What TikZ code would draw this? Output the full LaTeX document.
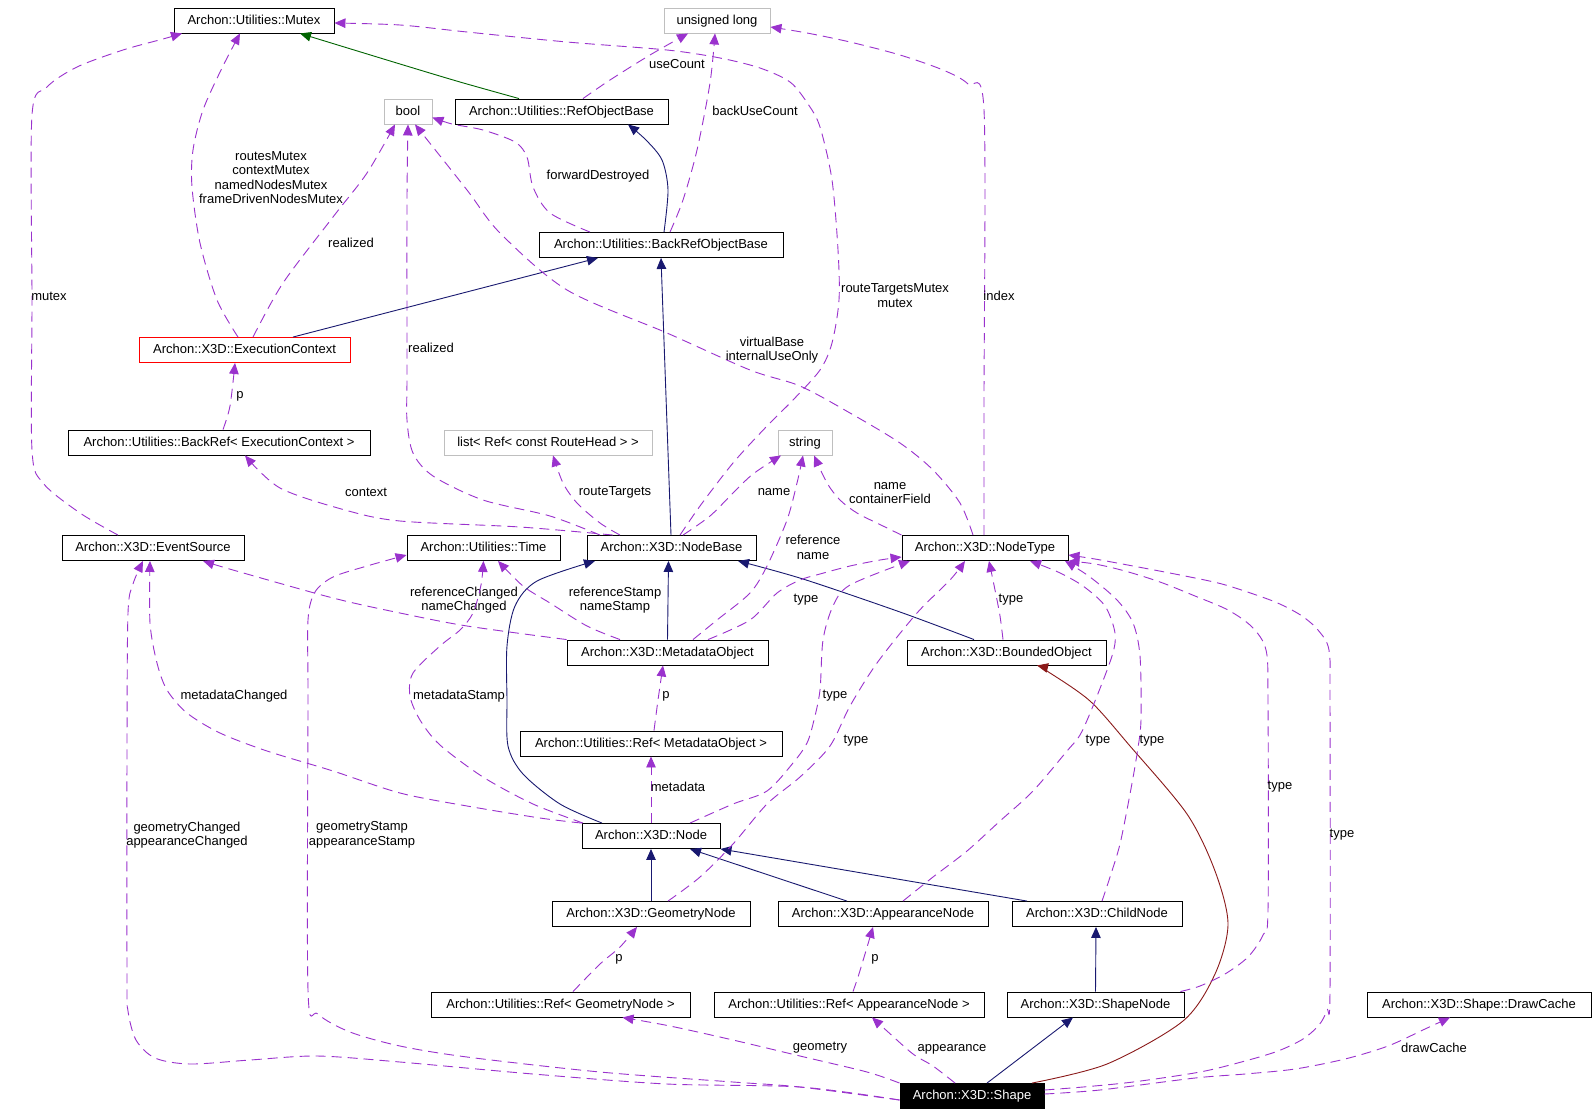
\documentclass[tikz,border=0pt]{standalone}
\usepackage{fontspec}
\setmainfont{Liberation Sans}
\usetikzlibrary{arrows.meta}
\definecolor{usecol}{HTML}{9A32CD}
\definecolor{inhcol}{HTML}{191970}
\definecolor{protcol}{HTML}{006400}
\definecolor{privcol}{HTML}{8B1A1A}
\definecolor{undoccol}{HTML}{BFBFBF}
\tikzset{
  cls/.style={draw=black, line width=0.9pt, rectangle, minimum height=25pt, inner sep=0pt,
    text height=10pt, text depth=2.4pt, fill=white, font=\fontsize{13}{14.5}\selectfont},
  undoc/.style={cls, draw=undoccol},
  incomplete/.style={cls, draw=red},
  mainclass/.style={cls, fill=black, text=white},
  tipA/.style={-{Triangle[length=11pt,width=9.5pt]}},
  inh/.style={draw=inhcol, line width=0.9pt, tipA},
  prot/.style={draw=protcol, line width=0.9pt, tipA},
  priv/.style={draw=privcol, line width=0.9pt, tipA},
  usage/.style={draw=usecol, line width=0.9pt, dash pattern=on 10pt off 6pt, tipA},
  lbl/.style={inner sep=0pt, align=center, font=\fontsize{13}{14.5}\selectfont, text=black},
}
\begin{document}
\begin{tikzpicture}[x=1pt,y=-1pt]
\useasboundingbox[fill=white] (0,0) rectangle (1595,1117);

% ---------- nodes ----------
\node[cls, minimum width=160pt] (mutex) at (254,20.5) {Archon::Utilities::Mutex};
\node[undoc, minimum width=106pt] (ulong) at (717,20.5) {unsigned long};
\node[undoc, minimum width=48pt] (bool) at (408,111.5) {bool};
\node[cls, minimum width=213pt] (rob) at (561.5,111.5) {Archon::Utilities::RefObjectBase};
\node[cls, minimum width=244pt] (brob) at (661,245) {Archon::Utilities::BackRefObjectBase};
\node[incomplete, minimum width=211pt] (ec) at (244.5,350) {Archon::X3D::ExecutionContext};
\node[cls, minimum width=302pt] (brec) at (219,442.5) {Archon::Utilities::BackRef< ExecutionContext >};
\node[undoc, minimum width=208pt] (list) at (548,442.5) {list< Ref< const RouteHead > >};
\node[undoc, minimum width=54pt] (string) at (805,442.5) {string};
\node[cls, minimum width=182pt] (es) at (153,548) {Archon::X3D::EventSource};
\node[cls, minimum width=153pt] (time) at (483.5,548) {Archon::Utilities::Time};
\node[cls, minimum width=169pt] (nb) at (671.5,548) {Archon::X3D::NodeBase};
\node[cls, minimum width=166pt] (nt) at (985,548) {Archon::X3D::NodeType};
\node[cls, minimum width=201pt] (mo) at (667.5,652.5) {Archon::X3D::MetadataObject};
\node[cls, minimum width=199pt] (bo) at (1006.5,652.5) {Archon::X3D::BoundedObject};
\node[cls, minimum width=262pt] (rmo) at (651,743.5) {Archon::Utilities::Ref< MetadataObject >};
\node[cls, minimum width=138pt] (node) at (651,836) {Archon::X3D::Node};
\node[cls, minimum width=198pt] (gn) at (651,914) {Archon::X3D::GeometryNode};
\node[cls, minimum width=210pt] (an) at (883,914) {Archon::X3D::AppearanceNode};
\node[cls, minimum width=170pt] (cn) at (1097,914) {Archon::X3D::ChildNode};
\node[cls, minimum width=259pt] (rgn) at (560.5,1004.5) {Archon::Utilities::Ref< GeometryNode >};
\node[cls, minimum width=270pt] (ran) at (849,1004.5) {Archon::Utilities::Ref< AppearanceNode >};
\node[cls, minimum width=177pt] (sn) at (1095.5,1004.5) {Archon::X3D::ShapeNode};
\node[cls, minimum width=224pt] (dc) at (1479,1004.5) {Archon::X3D::Shape::DrawCache};
\node[mainclass, minimum width=144pt] (shape) at (972,1096) {Archon::X3D::Shape};

% ---------- inheritance ----------
\draw[prot] plot[smooth] coordinates {([xshift=-42.5pt]rob.north) (460,82) (400,64) ([xshift=46pt]mutex.south)};
\draw[inh] plot[smooth] coordinates {([xshift=3pt]brob.north) (668,190) (662,160) (646,140) ([xshift=66.5pt]rob.south)};
\draw[inh] ([xshift=48.5pt]ec.north) -- ([xshift=-63pt]brob.south);
\draw[inh] ([xshift=-0.5pt]nb.north) -- (brob.south);
\draw[inh] (mo.north) -- ([xshift=-3pt]nb.south);
\draw[inh] plot[smooth] coordinates {([xshift=-32.5pt]bo.north) (900,612) (803,579) ([xshift=66.5pt]nb.south)};
\draw[inh] plot[smooth] coordinates {([xshift=-49pt]node.north) (560,804) (523,774) (508,746) (507,700) (507,646) (515,606) (537,581) ([xshift=-76.5pt]nb.south)};
\draw[inh] (gn.north) -- (node.south);
\draw[inh] ([xshift=-36pt]an.north) -- ([xshift=39pt]node.south);
\draw[inh] ([xshift=-70pt]cn.north) -- (node.south east);
\draw[inh] (sn.north) -- ([xshift=-1pt]cn.south);
\draw[inh] ([xshift=15pt]shape.north) -- ([xshift=-22.5pt]sn.south);
\draw[priv] plot[smooth] coordinates {([xshift=60pt]shape.north) (1107,1064) (1183,1021) (1215,974) (1228,924) (1215,871) (1187,814) (1130,746) (1090,701) (1047,671) ([xshift=30.5pt]bo.south)};

% ---------- usage ----------
\draw[usage] plot[smooth] coordinates {([xshift=-35pt]es.north) (80,513) (43,483) (32,450) (32,300) (32,115) (47,87) (77,67) (123,50) (163,39) ([xshift=-72pt]mutex.south)};
\node[lbl] (l-mutex) at (49,296) {mutex};

\draw[usage] plot[smooth] coordinates {([xshift=-6.5pt]ec.north) (217,300) (200,243) (192,187) (193,150) (203,110) (222,68) ([xshift=-14pt]mutex.south)};
\node[lbl] (l-mutexes) at (271,177.5) {routesMutex\\contextMutex\\namedNodesMutex\\frameDrivenNodesMutex};

\draw[usage] plot[smooth] coordinates {([xshift=8.5pt]ec.north) (283,283) (333,217) (367,173) ([xshift=-13pt]bool.south)};
\node[lbl] (l-realized1) at (351,243) {realized};

\draw[usage] plot[smooth] coordinates {([xshift=21.5pt]rob.north) (610,80) (650,55) ([xshift=-29pt]ulong.south)};
\node[lbl] (l-usecount) at (677,64) {useCount};

\draw[usage] plot[smooth] coordinates {([xshift=9pt]brob.north) (683,200) (697,150) (710,83) ([xshift=-2pt]ulong.south)};
\node[lbl] (l-backuse) at (755,111) {backUseCount};

\draw[usage] plot[smooth] coordinates {([xshift=-71pt]brob.north) (550,213) (533,187) (527,157) (515,142) (483,130) (452,124) ([yshift=-6pt]bool.east)};
\node[lbl] (l-fwd) at (598,176) {forwardDestroyed};

\draw[usage] plot[smooth] coordinates {([xshift=-12pt]nt.north) (960,503) (933,470) (900,443) (850,413) (800,386) (750,370) (667,333) (567,290) (500,233) (467,190) ([xshift=7pt]bool.south)};
\node[lbl] (l-virt) at (772,350) {virtualBase\\internalUseOnly};

\draw[usage] plot[smooth] coordinates {([xshift=-71.5pt]nb.north) (550,516) (483,500) (433,476) (413,453) (407,420) (407,373) (407,200) (bool.south)};
\node[lbl] (l-realized2) at (431,348) {realized};

\draw[usage] plot[smooth] coordinates {([xshift=8.5pt]nb.north) (700,506) (733,463) (767,426) (793,400) (820,370) (832,343) (839,300) (838,250) (832,180) (820,127) (808,104) (790,82) (760,68) (720,58) (667,50) (567,42) (467,32) (400,25) ([yshift=-2.5pt]mutex.east)};
\node[lbl] (l-rtm) at (895,295.5) {routeTargetsMutex\\mutex};

\draw[usage] plot[smooth] coordinates {([xshift=-1pt]nt.north) (984,400) (984,110) (968,84) (943,70) (900,55) (850,42) (807,33) ([yshift=-6.5pt]ulong.east)};
\node[lbl] (l-index) at (999,296) {index};

\draw[usage] plot[smooth] coordinates {([xshift=-51.5pt]nb.north) (600,523) (577,503) (563,483) ([xshift=5pt]list.south)};
\node[lbl] (l-rt) at (615,492) {routeTargets};

\draw[usage] plot[smooth] coordinates {([xshift=11.5pt]nb.north) (710,516) (733,493) (753,474) ([xshift=-24pt]string.south)};
\node[lbl] (l-name1) at (774,492) {name};

\draw[usage] plot[smooth] coordinates {([xshift=25.5pt]mo.north) (717,620) (750,593) (767,566) (787,520) (797,483) ([xshift=-2pt]string.south)};
\node[lbl] (l-refname) at (813,547.5) {reference\\name};

\draw[usage] plot[smooth] coordinates {(nt.north west) (883,526) (857,513) (840,500) (827,483) ([xshift=9pt]string.south)};
\node[lbl] (l-namecf) at (890,493) {name\\containerField};

\draw[usage] plot[smooth] coordinates {([xshift=-58.5pt]nb.north) (520,527) (400,521) (345,510) (280,488) ([xshift=26pt]brec.south)};
\node[lbl] (l-context) at (366,492) {context};

\draw[usage] plot[smooth] coordinates {(mo.north west) (467,626) (400,613) (333,598) (233,570) ([xshift=50pt]es.south)};
\node[lbl] (l-refchg) at (464,600) {referenceChanged\\nameChanged};

\draw[usage] plot[smooth] coordinates {([xshift=-47.5pt]mo.north) (587,626) (550,603) (523,586) ([xshift=14.5pt]time.south)};
\node[lbl] (l-refstamp) at (615,600) {referenceStamp\\nameStamp};

\draw[usage] plot[smooth] coordinates {([xshift=-68pt]node.north) (533,804) (483,777) (440,745) (420,720) (410,696) (413,673) (440,646) (460,630) (473,613) (481,585) (time.south)};
\node[lbl] (l-mdstamp) at (459,696) {metadataStamp};

\draw[usage] plot[smooth] coordinates {(node.north west) (540,818) (467,806) (400,793) (333,771) (267,751) (220,733) (187,713) (167,690) (157,663) (150,623) ([xshift=-3pt]es.south)};
\node[lbl] (l-mdchg) at (234,696) {metadataChanged};

\draw[usage] plot[smooth] coordinates {([yshift=-4pt]shape.west) (800,1087) (667,1084) (533,1074) (400,1062) (317,1056) (250,1060) (190,1064) (155,1058) (136,1040) (128,1011) (127,977) (127,746) (128,613) (133,584) ([xshift=-10pt]es.south)};
\node[lbl] (l-geochg) at (187,835) {geometryChanged\\appearanceChanged};

\draw[usage] plot[smooth] coordinates {([yshift=-4pt]shape.west) (800,1087) (733,1082) (600,1072) (467,1057) (400,1046) (350,1032) (318,1014) (308,990) (308,700) (308,620) (315,592) (333,577) (367,566) ([yshift=-7pt]time.west)};
\node[lbl] (l-geostamp) at (362,835) {geometryStamp\\appearanceStamp};

\draw[usage] plot[smooth] coordinates {(shape.north west) (867,1072) (800,1056) (733,1040) (670,1026) ([xshift=62pt]rgn.south)};
\node[lbl] (l-geo) at (820,1048) {geometry};

\draw[usage] plot[smooth] coordinates {([xshift=-17pt]shape.north) (933,1066) (913,1054) (887,1031) ([xshift=23pt]ran.south)};
\node[lbl] (l-app) at (952,1049) {appearance};

\draw[usage] plot[smooth] coordinates {([xshift=4pt]ran.north) (858,977) (865,954) ([xshift=-10pt]an.south)};
\node[lbl] (l-p1) at (875,959) {p};

\draw[usage] plot[smooth] coordinates {([xshift=12.5pt]rgn.north) (600,964) (620,947) ([xshift=-14pt]gn.south)};
\node[lbl] (l-p2) at (619,959) {p};

\draw[usage] plot[smooth] coordinates {([xshift=3pt]rmo.north) (658,700) ([xshift=-4.5pt]mo.south)};
\node[lbl] (l-p3) at (666,696) {p};

\draw[usage] (node.north) -- (rmo.south);
\node[lbl] (l-metadata) at (678,787) {metadata};

\draw[usage] plot[smooth] coordinates {([xshift=4pt]brec.north) (230,406) ([xshift=-9.5pt]ec.south)};
\node[lbl] (l-p4) at (240,396) {p};

% type edges to NodeType
\draw[usage] plot[smooth] coordinates {([xshift=40.5pt]mo.north) (750,620) (777,593) (800,580) (820,574) (850,566) (880,560) ([yshift=-9pt]nt.west)};
\node[lbl] (l-type1) at (806,600) {type};

\draw[usage] plot[smooth] coordinates {([xshift=39pt]node.north) (733,804) (767,791) (793,763) (807,743) (814,720) (820,690) (823,640) (833,606) (850,585) ([xshift=-75pt]nt.south)};
\node[lbl] (l-type2) at (835,696) {type};

\draw[usage] plot[smooth] coordinates {([xshift=17pt]gn.north) (700,877) (733,844) (767,804) (800,777) (830,746) (850,706) (877,663) (917,613) (950,580) ([xshift=-20pt]nt.south)};
\node[lbl] (l-type3) at (856,741) {type};

\draw[usage] plot[smooth] coordinates {([xshift=-3.5pt]bo.north) (1000,616) (995,590) ([xshift=4pt]nt.south)};
\node[lbl] (l-type4) at (1011,600) {type};

\draw[usage] plot[smooth] coordinates {([xshift=20pt]an.north) (933,877) (967,851) (1000,821) (1033,791) (1067,751) (1080,735) (1093,706) (1112,656) (1115,633) (1105,606) (1083,586) (1058,572) ([xshift=45pt]nt.south)};
\node[lbl] (l-type5) at (1098,741) {type};

\draw[usage] plot[smooth] coordinates {([xshift=5pt]cn.north) (1110,877) (1120,844) (1130,794) (1137,754) (1141,720) (1140,656) (1133,623) (1117,600) (1090,577) ([xshift=80pt]nt.south)};
\node[lbl] (l-type6) at (1152,741) {type};

\draw[usage] plot[smooth] coordinates {([xshift=-4pt]sn.north east) (1200,986) (1225,974) (1248,957) (1263,935) (1268,910) (1268,700) (1266,650) (1252,627) (1228,610) (1195,596) (1160,582) (1125,571) (1095,564) (nt.south east)};
\node[lbl] (l-type7) at (1280,787) {type};

\draw[usage] plot[smooth] coordinates {([yshift=6pt]shape.east) (1083,1087) (1133,1082) (1200,1072) (1245,1061) (1278,1051) (1303,1039) (1319,1025) (1327,1010) (1330,990) (1330,700) (1329,650) (1318,630) (1302,616) (1282,605) (1262,597) (1222,584) (1180,575) (1133,566) (1095,559) ([yshift=-7pt]nt.east)};
\node[lbl] (l-type8) at (1342,835) {type};

\draw[usage] plot[smooth] coordinates {([yshift=2pt]shape.east) (1100,1090) (1195,1078) (1245,1074) (1295,1069) (1345,1059) (1388,1046) (1425,1029) ([xshift=-29pt]dc.south)};
\node[lbl] (l-dc) at (1434,1048) {drawCache};

\end{tikzpicture}
\end{document}
